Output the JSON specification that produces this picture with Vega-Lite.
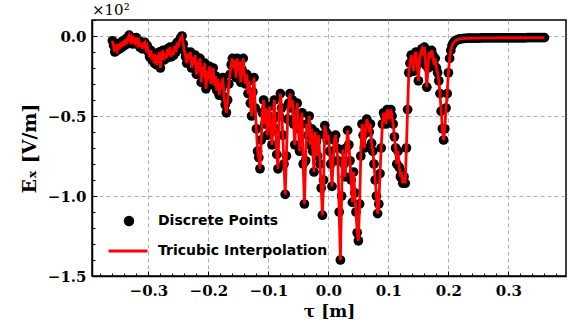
{
  "$schema": "https://vega.github.io/schema/vega-lite/v6.json",
  "width": 474,
  "height": 256,
  "autosize": {"type": "none"},
  "padding": {"left": 92, "top": 20, "right": 2, "bottom": 53},
  "background": "white",
  "title": {"text": "×10²", "anchor": "start", "frame": "group", "font": "DejaVu Serif", "fontSize": 15, "fontWeight": "normal", "color": "black", "offset": 2},
  "config": {"view": {"stroke": "black", "strokeWidth": 1.5}},
  "data": {"values": [
    {"tau": -0.360, "ex": -0.03}, {"tau": -0.358, "ex": -0.06}, {"tau": -0.356, "ex": -0.10}, {"tau": -0.354, "ex": -0.07},
    {"tau": -0.352, "ex": -0.09}, {"tau": -0.350, "ex": -0.05}, {"tau": -0.348, "ex": -0.08}, {"tau": -0.346, "ex": -0.04},
    {"tau": -0.344, "ex": -0.07}, {"tau": -0.342, "ex": -0.03}, {"tau": -0.340, "ex": -0.06}, {"tau": -0.338, "ex": -0.02},
    {"tau": -0.336, "ex": -0.05}, {"tau": -0.334, "ex": -0.01}, {"tau": -0.332, "ex": 0.005}, {"tau": -0.330, "ex": -0.03},
    {"tau": -0.328, "ex": -0.01}, {"tau": -0.326, "ex": -0.05}, {"tau": -0.324, "ex": -0.02}, {"tau": -0.322, "ex": -0.04},
    {"tau": -0.320, "ex": -0.01}, {"tau": -0.318, "ex": -0.05}, {"tau": -0.316, "ex": -0.03}, {"tau": -0.314, "ex": -0.07},
    {"tau": -0.312, "ex": -0.04}, {"tau": -0.310, "ex": -0.08}, {"tau": -0.308, "ex": -0.05}, {"tau": -0.306, "ex": -0.04},
    {"tau": -0.304, "ex": -0.08}, {"tau": -0.302, "ex": -0.06}, {"tau": -0.300, "ex": -0.10}, {"tau": -0.298, "ex": -0.13},
    {"tau": -0.296, "ex": -0.09}, {"tau": -0.294, "ex": -0.15}, {"tau": -0.292, "ex": -0.11}, {"tau": -0.290, "ex": -0.17},
    {"tau": -0.288, "ex": -0.12}, {"tau": -0.286, "ex": -0.18}, {"tau": -0.284, "ex": -0.14}, {"tau": -0.282, "ex": -0.10},
    {"tau": -0.280, "ex": -0.20}, {"tau": -0.278, "ex": -0.12}, {"tau": -0.276, "ex": -0.09}, {"tau": -0.274, "ex": -0.15},
    {"tau": -0.272, "ex": -0.11}, {"tau": -0.270, "ex": -0.14}, {"tau": -0.268, "ex": -0.08}, {"tau": -0.266, "ex": -0.12},
    {"tau": -0.264, "ex": -0.07}, {"tau": -0.262, "ex": -0.13}, {"tau": -0.260, "ex": -0.09}, {"tau": -0.258, "ex": -0.12},
    {"tau": -0.256, "ex": -0.06}, {"tau": -0.254, "ex": -0.10}, {"tau": -0.252, "ex": -0.04}, {"tau": -0.250, "ex": -0.07},
    {"tau": -0.248, "ex": -0.03}, {"tau": -0.246, "ex": -0.01}, {"tau": -0.244, "ex": 0.00}, {"tau": -0.242, "ex": -0.05},
    {"tau": -0.240, "ex": -0.09}, {"tau": -0.238, "ex": -0.13}, {"tau": -0.236, "ex": -0.17}, {"tau": -0.234, "ex": -0.11},
    {"tau": -0.232, "ex": -0.15}, {"tau": -0.230, "ex": -0.10}, {"tau": -0.228, "ex": -0.20}, {"tau": -0.226, "ex": -0.13},
    {"tau": -0.224, "ex": -0.18}, {"tau": -0.222, "ex": -0.12}, {"tau": -0.220, "ex": -0.24}, {"tau": -0.218, "ex": -0.16},
    {"tau": -0.216, "ex": -0.22}, {"tau": -0.214, "ex": -0.14}, {"tau": -0.212, "ex": -0.29}, {"tau": -0.210, "ex": -0.19},
    {"tau": -0.208, "ex": -0.25}, {"tau": -0.206, "ex": -0.17}, {"tau": -0.204, "ex": -0.33}, {"tau": -0.202, "ex": -0.22},
    {"tau": -0.200, "ex": -0.27}, {"tau": -0.198, "ex": -0.19}, {"tau": -0.196, "ex": -0.30}, {"tau": -0.194, "ex": -0.24},
    {"tau": -0.192, "ex": -0.20}, {"tau": -0.190, "ex": -0.31}, {"tau": -0.188, "ex": -0.25}, {"tau": -0.186, "ex": -0.34},
    {"tau": -0.184, "ex": -0.27}, {"tau": -0.182, "ex": -0.37}, {"tau": -0.180, "ex": -0.29}, {"tau": -0.178, "ex": -0.33},
    {"tau": -0.176, "ex": -0.26}, {"tau": -0.174, "ex": -0.38}, {"tau": -0.172, "ex": -0.43}, {"tau": -0.170, "ex": -0.48},
    {"tau": -0.168, "ex": -0.40}, {"tau": -0.166, "ex": -0.30}, {"tau": -0.164, "ex": -0.24}, {"tau": -0.162, "ex": -0.18},
    {"tau": -0.160, "ex": -0.14}, {"tau": -0.158, "ex": -0.20}, {"tau": -0.156, "ex": -0.15}, {"tau": -0.154, "ex": -0.26},
    {"tau": -0.152, "ex": -0.14}, {"tau": -0.150, "ex": -0.22}, {"tau": -0.148, "ex": -0.16}, {"tau": -0.146, "ex": -0.29},
    {"tau": -0.144, "ex": -0.21}, {"tau": -0.142, "ex": -0.14}, {"tau": -0.140, "ex": -0.24}, {"tau": -0.138, "ex": -0.30},
    {"tau": -0.136, "ex": -0.24}, {"tau": -0.134, "ex": -0.36}, {"tau": -0.132, "ex": -0.28}, {"tau": -0.130, "ex": -0.42},
    {"tau": -0.128, "ex": -0.50}, {"tau": -0.126, "ex": -0.35}, {"tau": -0.124, "ex": -0.26}, {"tau": -0.122, "ex": -0.45},
    {"tau": -0.120, "ex": -0.58}, {"tau": -0.118, "ex": -0.72}, {"tau": -0.116, "ex": -0.76}, {"tau": -0.114, "ex": -0.83},
    {"tau": -0.112, "ex": -0.65}, {"tau": -0.110, "ex": -0.48}, {"tau": -0.108, "ex": -0.40}, {"tau": -0.106, "ex": -0.55},
    {"tau": -0.104, "ex": -0.45}, {"tau": -0.102, "ex": -0.62}, {"tau": -0.100, "ex": -0.50}, {"tau": -0.098, "ex": -0.44},
    {"tau": -0.096, "ex": -0.60}, {"tau": -0.094, "ex": -0.68}, {"tau": -0.092, "ex": -0.52}, {"tau": -0.090, "ex": -0.40},
    {"tau": -0.088, "ex": -0.58}, {"tau": -0.086, "ex": -0.74}, {"tau": -0.084, "ex": -0.83}, {"tau": -0.082, "ex": -0.50},
    {"tau": -0.080, "ex": -0.36}, {"tau": -0.078, "ex": -0.45}, {"tau": -0.076, "ex": -0.62}, {"tau": -0.074, "ex": -0.80},
    {"tau": -0.072, "ex": -0.99}, {"tau": -0.070, "ex": -0.75}, {"tau": -0.068, "ex": -0.52}, {"tau": -0.066, "ex": -0.42},
    {"tau": -0.064, "ex": -0.36}, {"tau": -0.062, "ex": -0.45}, {"tau": -0.060, "ex": -0.40}, {"tau": -0.058, "ex": -0.55},
    {"tau": -0.056, "ex": -0.68}, {"tau": -0.054, "ex": -0.50}, {"tau": -0.052, "ex": -0.42}, {"tau": -0.050, "ex": -0.58},
    {"tau": -0.048, "ex": -0.72}, {"tau": -0.046, "ex": -0.55}, {"tau": -0.044, "ex": -0.48}, {"tau": -0.042, "ex": -0.80},
    {"tau": -0.040, "ex": -1.05}, {"tau": -0.038, "ex": -0.78}, {"tau": -0.036, "ex": -0.55}, {"tau": -0.034, "ex": -0.62},
    {"tau": -0.032, "ex": -0.50}, {"tau": -0.030, "ex": -0.68}, {"tau": -0.028, "ex": -0.58}, {"tau": -0.026, "ex": -0.72},
    {"tau": -0.024, "ex": -0.85}, {"tau": -0.022, "ex": -0.60}, {"tau": -0.020, "ex": -0.66}, {"tau": -0.018, "ex": -0.75},
    {"tau": -0.016, "ex": -0.62}, {"tau": -0.014, "ex": -0.80}, {"tau": -0.012, "ex": -0.95}, {"tau": -0.010, "ex": -1.12},
    {"tau": -0.008, "ex": -0.90}, {"tau": -0.006, "ex": -0.56}, {"tau": -0.004, "ex": -0.60}, {"tau": -0.002, "ex": -0.65},
    {"tau": 0.000, "ex": -0.62}, {"tau": 0.002, "ex": -0.72}, {"tau": 0.004, "ex": -0.80}, {"tau": 0.006, "ex": -0.94},
    {"tau": 0.008, "ex": -0.78}, {"tau": 0.010, "ex": -0.65}, {"tau": 0.012, "ex": -0.62}, {"tau": 0.014, "ex": -0.70},
    {"tau": 0.016, "ex": -0.78}, {"tau": 0.018, "ex": -1.10}, {"tau": 0.020, "ex": -1.40}, {"tau": 0.022, "ex": -1.00},
    {"tau": 0.024, "ex": -0.71}, {"tau": 0.026, "ex": -0.80}, {"tau": 0.028, "ex": -0.88}, {"tau": 0.030, "ex": -0.70},
    {"tau": 0.032, "ex": -0.59}, {"tau": 0.034, "ex": -0.68}, {"tau": 0.036, "ex": -0.78}, {"tau": 0.038, "ex": -0.90},
    {"tau": 0.040, "ex": -1.04}, {"tau": 0.042, "ex": -0.85}, {"tau": 0.044, "ex": -0.98}, {"tau": 0.046, "ex": -1.10},
    {"tau": 0.048, "ex": -1.23}, {"tau": 0.050, "ex": -1.28}, {"tau": 0.052, "ex": -1.05}, {"tau": 0.054, "ex": -0.75},
    {"tau": 0.056, "ex": -0.55}, {"tau": 0.058, "ex": -0.62}, {"tau": 0.060, "ex": -0.70}, {"tau": 0.062, "ex": -0.58},
    {"tau": 0.064, "ex": -0.52}, {"tau": 0.066, "ex": -0.55}, {"tau": 0.068, "ex": -0.60}, {"tau": 0.070, "ex": -0.55},
    {"tau": 0.072, "ex": -0.67}, {"tau": 0.074, "ex": -0.72}, {"tau": 0.076, "ex": -0.80}, {"tau": 0.078, "ex": -0.90},
    {"tau": 0.080, "ex": -1.00}, {"tau": 0.082, "ex": -1.11}, {"tau": 0.084, "ex": -1.05}, {"tau": 0.086, "ex": -0.86},
    {"tau": 0.088, "ex": -0.70}, {"tau": 0.090, "ex": -0.55}, {"tau": 0.092, "ex": -0.48}, {"tau": 0.094, "ex": -0.50},
    {"tau": 0.096, "ex": -0.55}, {"tau": 0.098, "ex": -0.46}, {"tau": 0.100, "ex": -0.48}, {"tau": 0.102, "ex": -0.52},
    {"tau": 0.104, "ex": -0.46}, {"tau": 0.106, "ex": -0.50}, {"tau": 0.108, "ex": -0.55}, {"tau": 0.110, "ex": -0.63},
    {"tau": 0.112, "ex": -0.70}, {"tau": 0.114, "ex": -0.80}, {"tau": 0.116, "ex": -0.72}, {"tau": 0.118, "ex": -0.82},
    {"tau": 0.120, "ex": -0.88}, {"tau": 0.122, "ex": -0.85}, {"tau": 0.124, "ex": -0.92}, {"tau": 0.126, "ex": -0.88},
    {"tau": 0.128, "ex": -0.92}, {"tau": 0.130, "ex": -0.70}, {"tau": 0.132, "ex": -0.46}, {"tau": 0.134, "ex": -0.23},
    {"tau": 0.136, "ex": -0.17}, {"tau": 0.138, "ex": -0.12}, {"tau": 0.140, "ex": -0.15}, {"tau": 0.142, "ex": -0.22},
    {"tau": 0.144, "ex": -0.12}, {"tau": 0.146, "ex": -0.10}, {"tau": 0.148, "ex": -0.18}, {"tau": 0.150, "ex": -0.28},
    {"tau": 0.152, "ex": -0.15}, {"tau": 0.154, "ex": -0.10}, {"tau": 0.156, "ex": -0.08}, {"tau": 0.158, "ex": -0.12},
    {"tau": 0.160, "ex": -0.07}, {"tau": 0.162, "ex": -0.18}, {"tau": 0.164, "ex": -0.32}, {"tau": 0.166, "ex": -0.20},
    {"tau": 0.168, "ex": -0.10}, {"tau": 0.170, "ex": -0.14}, {"tau": 0.172, "ex": -0.09}, {"tau": 0.174, "ex": -0.12},
    {"tau": 0.176, "ex": -0.18}, {"tau": 0.178, "ex": -0.14}, {"tau": 0.180, "ex": -0.20}, {"tau": 0.182, "ex": -0.23},
    {"tau": 0.184, "ex": -0.28}, {"tau": 0.186, "ex": -0.36}, {"tau": 0.188, "ex": -0.47}, {"tau": 0.190, "ex": -0.58},
    {"tau": 0.192, "ex": -0.65}, {"tau": 0.194, "ex": -0.58}, {"tau": 0.196, "ex": -0.45}, {"tau": 0.198, "ex": -0.36},
    {"tau": 0.200, "ex": -0.23}, {"tau": 0.202, "ex": -0.14}, {"tau": 0.204, "ex": -0.09}, {"tau": 0.206, "ex": -0.06},
    {"tau": 0.208, "ex": -0.045}, {"tau": 0.210, "ex": -0.035}, {"tau": 0.212, "ex": -0.03}, {"tau": 0.214, "ex": -0.025},
    {"tau": 0.216, "ex": -0.022}, {"tau": 0.218, "ex": -0.02}, {"tau": 0.220, "ex": -0.018},
    {"tau": 0.224, "ex": -0.016}, {"tau": 0.228, "ex": -0.015}, {"tau": 0.232, "ex": -0.014}, {"tau": 0.236, "ex": -0.014},
    {"tau": 0.240, "ex": -0.013}, {"tau": 0.244, "ex": -0.013}, {"tau": 0.248, "ex": -0.013}, {"tau": 0.252, "ex": -0.013},
    {"tau": 0.256, "ex": -0.012}, {"tau": 0.260, "ex": -0.012}, {"tau": 0.264, "ex": -0.012}, {"tau": 0.268, "ex": -0.012},
    {"tau": 0.272, "ex": -0.012}, {"tau": 0.276, "ex": -0.012}, {"tau": 0.280, "ex": -0.012}, {"tau": 0.284, "ex": -0.011},
    {"tau": 0.288, "ex": -0.011}, {"tau": 0.292, "ex": -0.011}, {"tau": 0.296, "ex": -0.011}, {"tau": 0.300, "ex": -0.011},
    {"tau": 0.304, "ex": -0.011}, {"tau": 0.308, "ex": -0.011}, {"tau": 0.312, "ex": -0.011}, {"tau": 0.316, "ex": -0.011},
    {"tau": 0.320, "ex": -0.011}, {"tau": 0.324, "ex": -0.011}, {"tau": 0.328, "ex": -0.011}, {"tau": 0.332, "ex": -0.010},
    {"tau": 0.336, "ex": -0.010}, {"tau": 0.340, "ex": -0.010}, {"tau": 0.344, "ex": -0.010}, {"tau": 0.348, "ex": -0.010},
    {"tau": 0.352, "ex": -0.010}, {"tau": 0.356, "ex": -0.010}, {"tau": 0.360, "ex": -0.010}
  ]},
  "resolve": {"axis": {"x": "independent", "y": "independent"}},
  "layer": [
    {
      "mark": {"type": "point", "filled": true, "size": 95, "opacity": 1, "strokeWidth": 0},
      "encoding": {
        "x": {"field": "tau", "type": "quantitative",
          "scale": {"domain": [-0.394, 0.396], "nice": false, "zero": false},
          "axis": {"orient": "bottom", "values": [-0.3, -0.2, -0.1, 0, 0.1, 0.2, 0.3], "format": ".1f",
            "labelFont": "DejaVu Serif", "labelFontSize": 15, "labelFontWeight": "bold", "labelColor": "black",
            "tickSize": -5, "tickColor": "black", "tickWidth": 1, "labelPadding": 12,
            "grid": true, "gridColor": "#b0b0b0", "gridDash": [4, 3], "gridWidth": 1,
            "domainColor": "black", "domainWidth": 1.5,
            "title": "τ [m]", "titleFont": "DejaVu Serif", "titleFontSize": 17, "titleFontWeight": "bold", "titleColor": "black", "titlePadding": 5}},
        "y": {"field": "ex", "type": "quantitative",
          "scale": {"domain": [-1.5, 0.1], "nice": false, "zero": false},
          "axis": {"orient": "left", "values": [-1.5, -1.0, -0.5, 0], "format": ".1f",
            "labelFont": "DejaVu Serif", "labelFontSize": 15, "labelFontWeight": "bold", "labelColor": "black",
            "tickSize": -5, "tickColor": "black", "tickWidth": 1, "labelPadding": 11,
            "grid": true, "gridColor": "#b0b0b0", "gridDash": [4, 3], "gridWidth": 1,
            "domainColor": "black", "domainWidth": 1.5,
            "title": "Eₓ [V/m]", "titleFont": "DejaVu Serif", "titleFontSize": 19, "titleFontWeight": "bold", "titleColor": "black", "titlePadding": 8}},
        "fill": {"datum": "Discrete Points", "type": "nominal", "scale": {"range": ["black"]},
          "legend": {"orient": "none", "legendX": 30, "legendY": 194, "title": null, "padding": 0,
            "symbolType": "circle", "symbolSize": 110, "symbolStrokeWidth": 0, "labelLimit": 0,
            "labelFont": "DejaVu Sans", "labelFontSize": 14, "labelFontWeight": "bold", "labelColor": "black", "labelOffset": 22}}
      }
    },
    {
      "mark": {"type": "line", "strokeWidth": 2.8},
      "encoding": {
        "x": {"field": "tau", "type": "quantitative",
          "axis": {"orient": "bottom", "values": [-0.38, -0.36, -0.34, -0.32, -0.28, -0.26, -0.24, -0.22, -0.18, -0.16, -0.14, -0.12, -0.08, -0.06, -0.04, -0.02, 0.02, 0.04, 0.06, 0.08, 0.12, 0.14, 0.16, 0.18, 0.22, 0.24, 0.26, 0.28, 0.32, 0.34, 0.36, 0.38],
            "labels": false, "grid": false, "domain": false, "tickSize": -3, "tickColor": "black", "tickWidth": 1, "title": null}},
        "y": {"field": "ex", "type": "quantitative",
          "axis": {"orient": "left", "values": [-1.4, -1.3, -1.2, -1.1, -0.9, -0.8, -0.7, -0.6, -0.4, -0.3, -0.2, -0.1, 0.1],
            "labels": false, "grid": false, "domain": false, "tickSize": -3, "tickColor": "black", "tickWidth": 1, "title": null}},
        "stroke": {"datum": "Tricubic Interpolation", "type": "nominal", "scale": {"range": ["#ff0000"]},
          "legend": {"orient": "none", "legendX": 15, "legendY": 210, "title": null, "padding": 0,
            "symbolType": "stroke", "symbolSize": 1521, "symbolStrokeWidth": 2.8, "labelLimit": 0,
            "labelFont": "DejaVu Sans", "labelFontSize": 14, "labelFontWeight": "bold", "labelColor": "black", "labelOffset": 9}}
      }
    }
  ]
}
